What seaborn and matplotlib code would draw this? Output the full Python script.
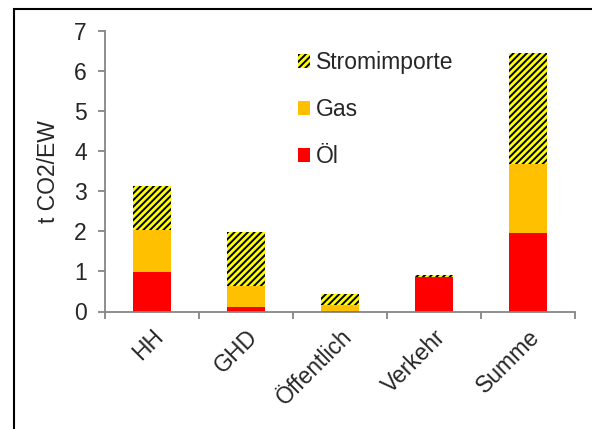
import numpy as np
import matplotlib
matplotlib.use("Agg")
import matplotlib.pyplot as plt
import seaborn as sns
import pandas as pd
from matplotlib.patches import Rectangle

categories = ["HH", "GHD", "Öffentlich", "Verkehr", "Summe"]
oel = [0.98, 0.11, 0.02, 0.86, 1.96]
gas = [1.05, 0.52, 0.14, 0.00, 1.72]
strom = [1.10, 1.35, 0.28, 0.04, 2.78]

sns.set_style("white")
plt.rcParams["font.family"] = ["Liberation Sans", "DejaVu Sans"]
plt.rcParams["hatch.linewidth"] = 1.4

df = pd.DataFrame({"Kategorie": categories, "Öl": oel, "Gas": gas, "Strom": strom})
# stacked by drawing cumulative totals back to front
df["top_gas"] = df["Öl"] + df["Gas"]
df["top_strom"] = df["top_gas"] + df["Strom"]

fig = plt.figure(figsize=(5.92, 4.29), dpi=100)
ax = fig.add_axes([105 / 592, 1 - 311.5 / 429, 470 / 592, 280.5 / 429])

sns.barplot(data=df, x="Kategorie", y="top_strom", ax=ax, color="#FFFF00",
            width=0.4, hatch="/////", edgecolor="black", linewidth=0,
            saturation=1, label="Stromimporte")
sns.barplot(data=df, x="Kategorie", y="top_gas", ax=ax, color="#FFC000",
            width=0.4, linewidth=0, saturation=1, label="Gas")
sns.barplot(data=df, x="Kategorie", y="Öl", ax=ax, color="#FF0000",
            width=0.4, linewidth=0, saturation=1, label="Öl")

fs = 16.5
ax.set_xlim(-0.5, len(categories) - 0.5)
ax.set_ylim(0, 7)
ax.set_yticks(range(0, 8))
ax.set_xlabel("")
ax.set_ylabel("t CO2/EW", fontsize=fs, labelpad=10)

grey = "#868686"
for side in ["top", "right"]:
    ax.spines[side].set_visible(False)
for side in ["left", "bottom"]:
    ax.spines[side].set_color(grey)
    ax.spines[side].set_linewidth(1.3)

# category boundaries carry the ticks on the x axis
ax.set_xticks(np.arange(-0.5, len(categories)), minor=True)
ax.tick_params(axis="x", which="major", length=0, pad=10, labelsize=fs)
ax.tick_params(axis="x", which="minor", length=5, width=1.3, color=grey, direction="out")
ax.tick_params(axis="y", length=5, width=1.3, color=grey, direction="out", labelsize=fs, pad=8)
ax.tick_params(left=True, bottom=True)
ax.tick_params(axis="x", which="minor", bottom=True)
for lbl in ax.get_xticklabels():
    lbl.set_rotation(45)
    lbl.set_ha("right")
    lbl.set_rotation_mode("anchor")

ax.legend(loc="upper left", bbox_to_anchor=(298 / 592, 1 - 51 / 429),
          bbox_transform=fig.transFigure, frameon=False, fontsize=fs,
          handlelength=0.52, handleheight=0.52, handletextpad=0.27,
          labelspacing=1.05, borderpad=0, borderaxespad=0)

fig.add_artist(Rectangle((14 / 592, -0.2), 1.2, 1.2 - 9 / 429,
                         transform=fig.transFigure, fill=False,
                         edgecolor="black", linewidth=1.5))

plt.savefig("out.png", dpi=100)
